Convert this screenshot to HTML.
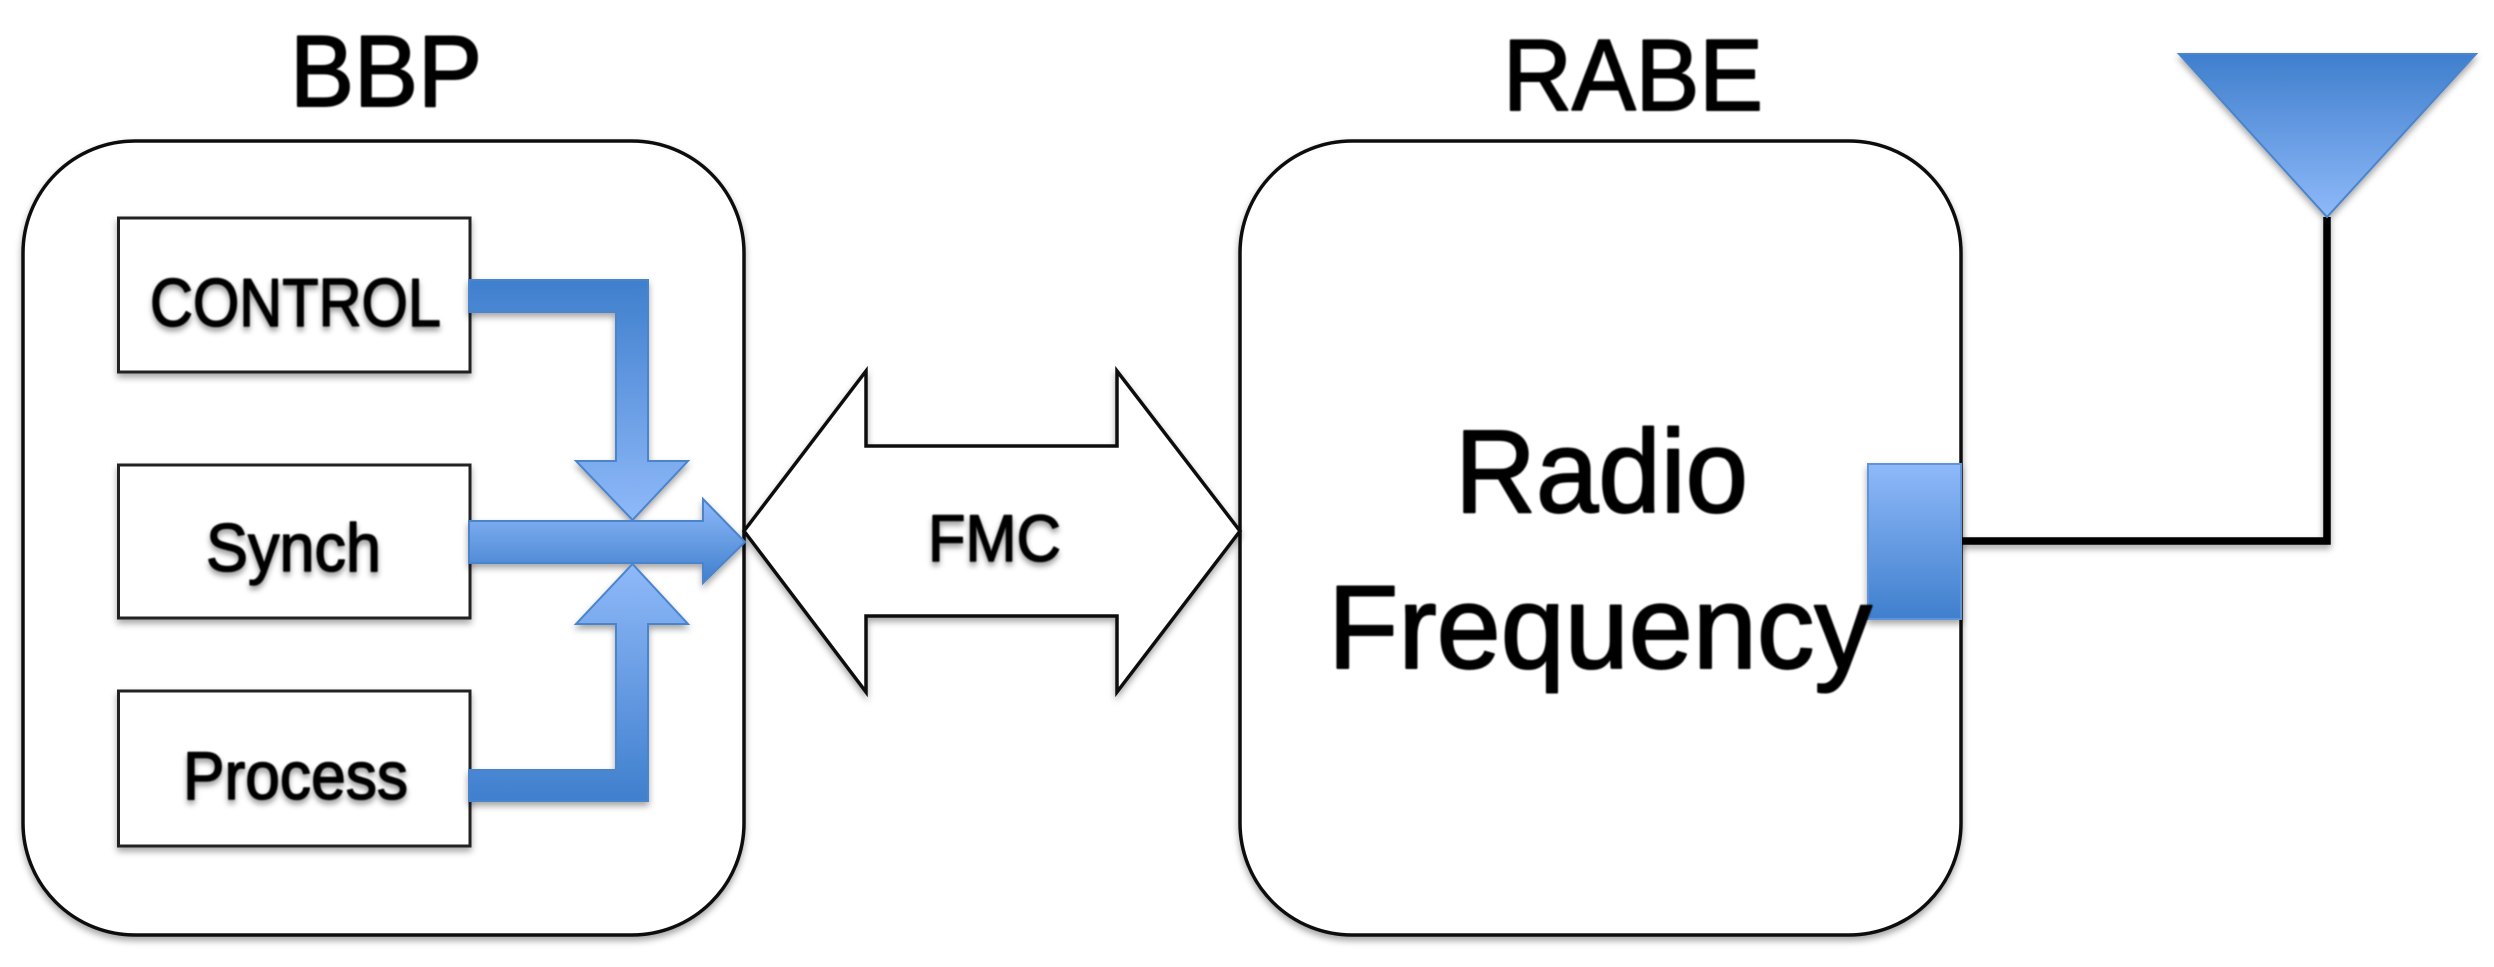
<!DOCTYPE html>
<html><head><meta charset="utf-8"><style>html,body{margin:0;padding:0;background:#fff;width:2494px;height:967px;overflow:hidden}svg{display:block}text{font-family:"Liberation Sans",sans-serif;fill:#000;stroke:#000;stroke-linejoin:round}</style></head><body>
<svg width="2494" height="967" viewBox="0 0 2494 967" xmlns="http://www.w3.org/2000/svg">
<defs>
<linearGradient id="dn" gradientUnits="objectBoundingBox" x1="0" y1="0" x2="0" y2="1"><stop offset="0" stop-color="#3f7fcd"/><stop offset="1" stop-color="#8fb9f9"/></linearGradient>
<linearGradient id="up" gradientUnits="objectBoundingBox" x1="0" y1="0" x2="0" y2="1"><stop offset="0" stop-color="#8fb9f9"/><stop offset="1" stop-color="#3f7fcd"/></linearGradient>
<filter id="sh" x="-10%" y="-10%" width="120%" height="125%"><feDropShadow dx="0" dy="4" stdDeviation="3.5" flood-color="#000" flood-opacity=".35"/></filter>
<filter id="ts" x="-10%" y="-20%" width="120%" height="150%"><feGaussianBlur in="SourceGraphic" stdDeviation=".7" result="b"/><feDropShadow in="b" dx="0" dy="4" stdDeviation="3" flood-color="#000" flood-opacity=".4"/></filter>
<filter id="bl" x="-10%" y="-20%" width="120%" height="140%"><feGaussianBlur stdDeviation=".7"/></filter>
</defs>
<g fill="#fff" stroke="#111" stroke-width="3.5" filter="url(#sh)">
<rect x="23" y="141" width="721" height="794" rx="112" ry="112"/>
<rect x="1240" y="141" width="721" height="794" rx="112" ry="112"/>
</g>
<g fill="#fff" stroke="#222" stroke-width="3" filter="url(#sh)">
<rect x="118.500" y="218" width="351.500" height="154"/>
<rect x="118.500" y="465" width="351.500" height="153"/>
<rect x="118.500" y="691" width="351.500" height="155"/>
</g>
<polygon points="744,531 866,371 866,446 1117,446 1117,371 1240,531 1117,692 1117,616 866,616 866,692" fill="#fff" stroke="#111" stroke-width="3.500" stroke-linejoin="miter" filter="url(#sh)"/>
<g stroke="#4a84cc" stroke-width="2" filter="url(#sh)">
<polygon points="469,521 703,521 703,499 745,542 703,583 703,563 469,563" fill="url(#up)"/>
<polygon points="469,280 648,280 648,461 688,461 632.500,520 576,461 616,461 616,312 469,312" fill="url(#dn)"/>
<polygon points="469,801 648,801 648,624 688,624 632.500,564 576,624 616,624 616,770 469,770" fill="url(#up)"/>
</g>
<path d="M1961 541H2327V217" fill="none" stroke="#000" stroke-width="7.500" filter="url(#sh)"/>
<rect x="1868" y="464" width="93" height="155" fill="url(#up)" stroke="#5f94d8" stroke-width="2" filter="url(#sh)"/>
<polygon points="2179,54 2476,54 2327,217" fill="url(#dn)" stroke="#4a84cc" stroke-width="2" filter="url(#sh)"/>
<g filter="url(#bl)" stroke-width="2">
<text x="290" y="106" font-size="101" textLength="192" lengthAdjust="spacingAndGlyphs">BBP</text>
<text x="1503" y="110" font-size="101" textLength="260" lengthAdjust="spacingAndGlyphs">RABE</text>
<text x="1455" y="512" font-size="118" textLength="293" lengthAdjust="spacingAndGlyphs">Radio</text>
<text x="1328" y="668" font-size="118" textLength="544" lengthAdjust="spacingAndGlyphs">Frequency</text>
</g>
<g filter="url(#ts)" stroke-width="1.5">
<text x="150" y="326" font-size="68" textLength="291" lengthAdjust="spacingAndGlyphs">CONTROL</text>
<text x="206" y="571" font-size="68" textLength="175" lengthAdjust="spacingAndGlyphs">Synch</text>
<text x="183" y="799" font-size="68" textLength="225" lengthAdjust="spacingAndGlyphs">Process</text>
<text x="928" y="561" font-size="66" textLength="133" lengthAdjust="spacingAndGlyphs">FMC</text>
</g>
</svg>
</body></html>
